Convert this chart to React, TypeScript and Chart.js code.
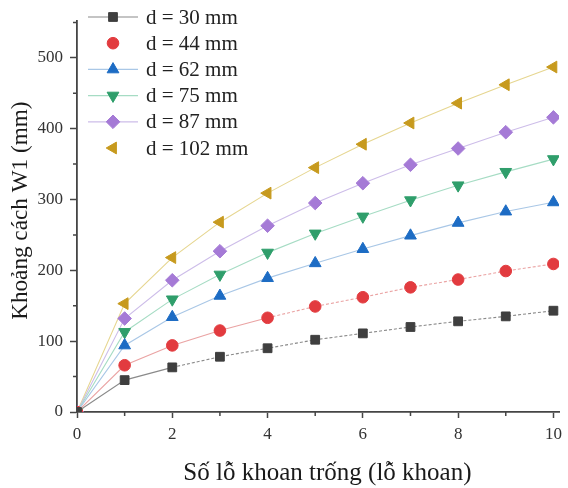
import React, { useEffect, useRef } from "react";
import { Chart, registerables } from "chart.js";
import { drawPoint } from "chart.js/helpers";

Chart.register(...registerables);

const xValues = [0, 1, 2, 3, 4, 5, 6, 7, 8, 9, 10];
const d30 = [0, 45, 63, 78, 90, 102, 111, 120, 128, 135, 143];
const d44 = [0, 66, 94, 115, 133, 149, 162, 176, 187, 199, 209];
const d62 = [0, 94, 134, 164, 189, 210, 230, 249, 267, 283, 296];
const d75 = [0, 113, 159, 194, 225, 252, 276, 299, 320, 339, 357];
const d87 = [0, 132, 186, 227, 263, 295, 323, 349, 372, 395, 416];
const d102 = [0, 153, 218, 268, 309, 345, 378, 408, 436, 462, 487];

const seriesLabels = ["d = 30 mm", "d = 44 mm", "d = 62 mm", "d = 75 mm", "d = 87 mm", "d = 102 mm"];
const seriesValues = [d30, d44, d62, d75, d87, d102];
const markerColors = ["#3f3f3f", "#e23b3f", "#1d6cc4", "#2f9e6b", "#a57ad6", "#c79a1e"];
const lineColors = ["#8a8a8a", "#eaa3a3", "#a9c7e6", "#a6dcc4", "#cdbde9", "#e6d690"];
const pointStyles = ["rect", "circle", "triangle", "triangle", "rectRot", "triangle"];
const pointRotations = [0, 0, 0, 180, 0, -90];
const pointRadii = [6.2, 5.8, 6.8, 6.8, 6.8, 6.8];
const legendLine = [true, false, true, true, true, false];
const dashFrom = [2, 4, 99, 99, 99, 99];

const xMinorTicks = [1, 3, 5, 7, 9];
const yMinorTicks = [50, 150, 250, 350, 450, 550];

const FONT = "'Liberation Serif', 'DejaVu Serif', serif";
const AXIS = "#454545";

const minorTickPlugin = {
  id: "minorTicks",
  afterDraw(chart: any) {
    const { ctx, chartArea, scales } = chart;
    ctx.save();
    ctx.strokeStyle = AXIS;
    ctx.lineWidth = 1.5;
    ctx.beginPath();
    xMinorTicks.forEach((v) => {
      const px = scales.x.getPixelForValue(v);
      ctx.moveTo(px, chartArea.bottom);
      ctx.lineTo(px, chartArea.bottom + 4);
    });
    yMinorTicks.forEach((v) => {
      const py = scales.y.getPixelForValue(v);
      ctx.moveTo(chartArea.left, py);
      ctx.lineTo(chartArea.left - 4, py);
    });
    ctx.stroke();
    ctx.restore();
  },
};

const legendPlugin = {
  id: "customLegend",
  afterDraw(chart: any) {
    const { ctx } = chart;
    ctx.save();
    const x0 = 88;
    const x1 = 138;
    const xm = 113;
    const tx = 146;
    let y = 17;
    chart.data.datasets.forEach((ds: any, i: number) => {
      if (legendLine[i]) {
        ctx.strokeStyle = ds.borderColor;
        ctx.lineWidth = 1.2;
        ctx.beginPath();
        ctx.moveTo(x0, y);
        ctx.lineTo(x1, y);
        ctx.stroke();
      }
      ctx.fillStyle = ds.pointBackgroundColor;
      ctx.strokeStyle = ds.pointBorderColor;
      ctx.lineWidth = 1;
      drawPoint(ctx, { pointStyle: ds.pointStyle, radius: ds.pointRadius, rotation: ds.pointRotation, borderWidth: 1 }, xm, y);
      ctx.fillStyle = "#222";
      ctx.font = `21px ${FONT}`;
      ctx.textBaseline = "middle";
      ctx.textAlign = "left";
      ctx.fillText(ds.label, tx, y + 1);
      y += 26.2;
    });
    ctx.restore();
  },
};

export default function App() {
  const ref = useRef<HTMLCanvasElement | null>(null);

  useEffect(() => {
    document.body.style.margin = "0";
    const canvas = ref.current;
    if (!canvas) return;
    const datasets = seriesValues.map((vals, i) => ({
      label: seriesLabels[i],
      data: vals.map((v, j) => ({ x: xValues[j], y: v })),
      borderColor: lineColors[i],
      backgroundColor: markerColors[i],
      borderWidth: 1.1,
      pointStyle: pointStyles[i],
      pointRotation: pointRotations[i],
      pointRadius: pointRadii[i],
      pointBackgroundColor: markerColors[i],
      pointBorderColor: markerColors[i],
      pointBorderWidth: 1,
      tension: 0,
      segment: {
        borderDash: (c: any) => (c.p0DataIndex >= dashFrom[i] ? [3, 2] : undefined),
      },
    }));
    const chart = new Chart(canvas, {
      type: "line",
      data: { datasets },
      options: {
        animation: false,
        responsive: true,
        maintainAspectRatio: false,
        layout: { padding: { top: 21, right: 5, left: 0, bottom: 0 } },
        plugins: { legend: { display: false }, tooltip: { enabled: false } },
        scales: {
          x: {
            type: "linear",
            min: 0,
            max: 10.12,
            grid: { display: true, drawOnChartArea: false, drawTicks: true, tickLength: 6, tickColor: AXIS, tickWidth: 1.5 },
            border: { display: true, color: AXIS, width: 1.8 },
            ticks: { stepSize: 2, includeBounds: false, font: { family: FONT, size: 17 }, color: "#333", padding: 6 },
            title: { display: true, text: "   Số lỗ khoan trống (lỗ khoan)", font: { family: FONT, size: 25 }, color: "#1a1a1a", padding: { top: 0, bottom: 0 } },
            afterFit: (s: any) => {
              s.height = 76;
            },
          },
          y: {
            type: "linear",
            min: 0,
            max: 552,
            grid: { display: true, drawOnChartArea: false, drawTicks: true, tickLength: 7, tickColor: AXIS, tickWidth: 1.5 },
            border: { display: true, color: AXIS, width: 1.8 },
            ticks: { stepSize: 100, includeBounds: false, font: { family: FONT, size: 17 }, color: "#333", padding: 7 },
            title: { display: true, text: "  Khoảng cách W1 (mm)", font: { family: FONT, size: 23.2 }, color: "#1a1a1a", padding: { top: 7, bottom: 0 } },
            afterFit: (s: any) => {
              s.width = 77;
            },
          },
        },
      },
      plugins: [minorTickPlugin, legendPlugin],
    });
    return () => chart.destroy();
  }, []);

  return (
    <div style={{ width: 568, height: 488, position: "relative", background: "#fff" }}>
      <canvas ref={ref} />
    </div>
  );
}
